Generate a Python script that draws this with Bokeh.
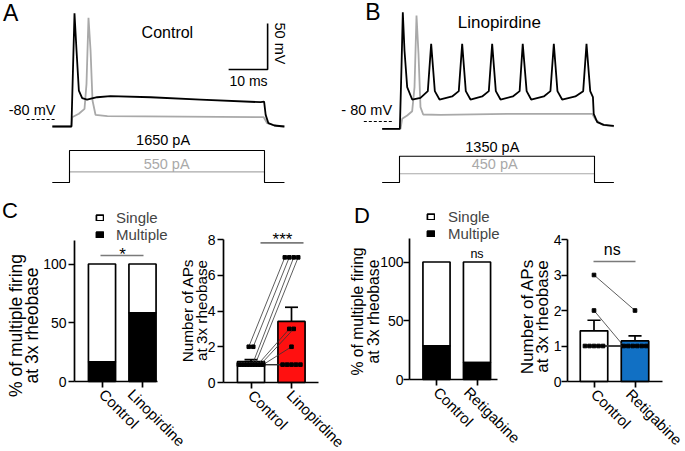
import math
import statistics
from bokeh.plotting import figure
from bokeh.models import Range1d, FixedTicker, Legend, LegendItem
from bokeh.layouts import row, column
from bokeh.embed import file_html
from bokeh.resources import INLINE
from bokeh.core.properties import value

FONT = "Liberation Sans"
GRAY = "#a9a9a9"
RED = "#ff1010"
BLUE = "#1170c4"
SIG = "#7a7a7a"

# ---------------- data ----------------
# Panel A (Control) membrane potential: time (ms from step onset), voltage (mV)
a_high_t = [-4.4, 0.5, 1.28, 1.8, 2.4, 3.25, 4.5, 7.1, 10.5, 20.8, 33.6, 49.0, 49.9, 50.3, 51.0, 52.5, 55.1]
a_high_v = [-87.6, -87.6, 35.5, -5, -48.5, -56.8, -58.3, -55.8, -54.7, -55.8, -58.3, -61.2, -60.5, -75, -84, -86.5, -87.6]
a_low_t = [-4.4, 0.5, 0.68, 2.4, 3.85, 4.36, 4.87, 5.4, 5.9, 6.67, 9.7, 49.8, 50.7, 53.3, 55.1]
a_low_v = [-87.6, -87.6, -77.5, -73.8, -68.4, -41.2, 30.5, -5, -59.3, -74.9, -76.4, -77.5, -84, -87.3, -87.6]
# Panel B (Linopirdine)
b_high_t = [-4.44, 0.09, 0.51, 0.85, 1.28, 1.97, 3.25, 5.38, 7.26, 8.12, 9.06, 10.26, 13.5, 15.2, 16.07,
            17.0, 18.2, 21.2, 22.9, 23.76, 24.7, 25.9, 29.06, 30.8, 31.6, 32.6, 33.76, 37.0, 38.7, 39.57,
            40.5, 41.7, 45.1, 47.1, 47.95, 48.9, 49.6, 49.8, 50.7, 52.4, 54.96]
b_high_v = [-87.97, -87.97, -20.9, 38.8, -2.8, -42.7, -56.1, -54.3, -47.0, 4.4, -47.0, -56.1, -52.8, -47.0, 4.4,
            -47.0, -56.1, -52.8, -47.0, 4.4, -47.0, -56.1, -52.8, -47.0, 4.4, -47.0, -56.1, -52.8, -47.0, 4.4,
            -47.0, -56.1, -52.8, -47.0, 4.4, -47.0, -53.6, -71.7, -80.7, -83.6, -84.7]
b_low_t = [-4.44, 0.26, 0.68, 1.97, 3.25, 3.85, 4.36, 4.87, 5.38, 6.07, 10.5, 27.6, 49.4, 50.3, 52.0, 54.96]
b_low_v = [-87.97, -87.97, -77.1, -73.5, -68.8, -42.7, 35.2, -6.4, -64.4, -72.4, -72.8, -71.7, -71.7, -78.2, -83.6, -85.4]
# current steps
step_on, step_off = 0.0, 50.0
a_trace_span = (-4.4, 55.1)
b_trace_span = (-4.44, 54.96)
a_step_pA = [1650, 550]   # high (black), low (gray)
b_step_pA = [1350, 450]
ref_level_mV = -80
scale_ms, scale_mV = 10, 50

# Panel C / D: number of APs per cell at 3x rheobase (paired)
c_groups = ["Control", "Linopirdine"]
c_ctrl_aps = [2, 2, 1, 1, 1, 1, 1, 1, 1, 1, 1, 1]
c_lino_aps = [7, 7, 1, 1, 1, 1, 1, 7, 7, 3, 3, 2]
d_groups = ["Control", "Retigabine"]
d_ctrl_aps = [3, 2, 1, 1, 1, 1, 1]
d_retig_aps = [2, 1, 1, 1, 1, 1, 1]
pct_ticks = [0, 50, 100]
c_ap_ticks = [0, 2, 4, 6, 8]
d_ap_ticks = [0, 1, 2, 3, 4]

# ---------------- layout geometry (page pixels) ----------------
W, H = 685, 451
TOP_H = 197
BOT_H = H - TOP_H

PX_MS, PX_MV, PX_PA = 3.9, 0.92, 0.0194


def trace_panel(ref_l, ref_r, onset_px, level_px):
    xr = ((ref_l - onset_px) / PX_MS, (ref_r - onset_px) / PX_MS)
    vr = (ref_level_mV - (TOP_H - level_px) / PX_MV, ref_level_mV + level_px / PX_MV)
    ir = (-(TOP_H - 182) / PX_PA, 182 / PX_PA)
    p = figure(width=ref_r - ref_l, height=TOP_H, x_range=Range1d(*xr), y_range=Range1d(*vr),
               x_axis_location=None, y_axis_location=None, toolbar_location=None,
               output_backend="svg", min_border=0, outline_line_color=None,
               background_fill_color=None, border_fill_color=None)
    p.extra_y_ranges = {"pA": Range1d(*ir)}
    p.grid.visible = False
    return p


def ptext(p, x, y, s, size, color="black", align="center", baseline="middle", angle=0.0, rng="default", lh=1.2):
    p.text(x=[x], y=[y], text=[s], text_font=value(FONT), text_font_size=value(f"{size}px"),
           text_color=color, text_align=align, text_baseline=baseline, angle=angle, y_range_name=rng,
           text_line_height=lh)


def draw_traces(p, hi_t, hi_v, lo_t, lo_v, span, steps):
    p.line(lo_t, lo_v, line_color=GRAY, line_width=1.8)
    p.line(hi_t, hi_v, line_color="black", line_width=1.8)
    for amp, col in ((steps[1], GRAY), (steps[0], "black")):
        xs = [span[0], step_on, step_on, step_off, step_off, span[1]]
        ys = [0, 0, amp, amp, 0, 0]
        p.line(xs, ys, line_color=col, line_width=1.1, y_range_name="pA")


pa = trace_panel(0, 340, 69, 119)
draw_traces(pa, a_high_t, a_high_v, a_low_t, a_low_v, a_trace_span, a_step_pA)
pa.line([-11.0, -3.6], [ref_level_mV, ref_level_mV], line_color="black", line_width=1, line_dash="3 2")
ptext(pa, -3.6, -70.1, "-80 mV", 14.5, align="right")
ptext(pa, -15.1, 35.3, "A", 23)
ptext(pa, 25.1, 14.6, "Control", 16)
corner_t, corner_v = 50.8, -25.7
pa.line([corner_t - scale_ms, corner_t, corner_t], [corner_v, corner_v, corner_v + scale_mV],
        line_color="black", line_width=1.6)
ptext(pa, 54.0, 2.6, f"{scale_mV} mV", 14.5, angle=-math.pi / 2)
ptext(pa, 45.9, -37.7, f"{scale_ms} ms", 14)
ptext(pa, 24.0, 2170, f"{a_step_pA[0]} pA", 14.5, rng="pA")
ptext(pa, 24.9, 969, f"{a_step_pA[1]} pA", 14.5, color=GRAY, rng="pA")

pb = trace_panel(340, 685, 399, 121)
draw_traces(pb, b_high_t, b_high_v, b_low_t, b_low_v, b_trace_span, b_step_pA)
pb.line([-9.15, -1.46], [ref_level_mV, ref_level_mV], line_color="black", line_width=1, line_dash="3 2")
ptext(pb, -1.9, -67.9, "- 80 mV", 14.5, align="right")
ptext(pb, -6.8, 39.0, "B", 23)
ptext(pb, 25.6, 27.3, "Linopirdine", 17)
ptext(pb, 23.8, 1825, f"{b_step_pA[0]} pA", 14.5, rng="pA")
ptext(pb, 24.4, 969, f"{b_step_pA[1]} pA", 14.5, color=GRAY, rng="pA")


# ---------------- bar panels ----------------
class Panel:
    """Frame covers the whole figure; axes are pinned with fixed_location + bounds."""

    def __init__(self, fig_l, fig_r, ax_l, ax_r, ax_t, ax_b, c1_px, c2_px, ymax, yticks, groups, ylab_standoff):
        self.fig_l, self.fig_r = fig_l, fig_r
        self.ax = (ax_l, ax_r, ax_t, ax_b)
        self.c1_px, self.sp = c1_px, c2_px - c1_px
        self.ymax = ymax
        xr = (self.dx(fig_l), self.dx(fig_r))
        yr = (self.dy(TOP_H + BOT_H), self.dy(TOP_H))
        p = figure(width=fig_r - fig_l, height=BOT_H, x_range=Range1d(*xr), y_range=Range1d(*yr),
                   toolbar_location=None, output_backend="svg", min_border=0,
                   outline_line_color=None, background_fill_color=None, border_fill_color=None)
        p.grid.visible = False
        p.yaxis.fixed_location = self.dx(ax_l)
        p.yaxis.bounds = (0, ymax)
        p.xaxis.fixed_location = 0
        p.xaxis.bounds = (self.dx(ax_l), self.dx(ax_r))
        p.xaxis.ticker = FixedTicker(ticks=[1, 2])
        p.xaxis.major_label_overrides = {1: groups[0], 2: groups[1]}
        p.xaxis.major_label_orientation = -math.pi / 4
        p.xaxis.major_label_text_font_size = "15px"
        p.xaxis.major_label_standoff = 4
        p.yaxis.ticker = FixedTicker(ticks=yticks)
        p.yaxis.major_label_text_font_size = "14px"
        p.yaxis.major_label_standoff = ylab_standoff
        p.axis.axis_line_width = 1.7
        p.axis.axis_line_color = "black"
        p.axis.major_tick_line_width = 1.7
        p.axis.major_tick_line_color = "black"
        p.axis.major_tick_out = 6
        p.axis.major_tick_in = 0
        p.axis.minor_tick_out = 0
        p.axis.minor_tick_in = 0
        p.axis.major_label_text_font = FONT
        p.axis.major_label_text_color = "black"
        self.p = p

    def dx(self, px):
        return 1 + (px - self.c1_px) / self.sp

    def dy(self, py):
        ax_l, ax_r, ax_t, ax_b = self.ax
        return (ax_b - py) / (ax_b - ax_t) * self.ymax

    def text(self, px, py, s, size, align="center", angle=0.0, lh=1.2):
        ptext(self.p, self.dx(px), self.dy(py), s, size, align=align, angle=angle, lh=lh)

    def sig_line(self, px0, px1, py):
        y = self.dy(py)
        self.p.segment(x0=[self.dx(px0)], y0=[y], x1=[self.dx(px1)], y1=[y], line_color=SIG, line_width=1.7)


def spread(vals, center, max_step=0.11, max_span=0.6):
    xs = [0.0] * len(vals)
    for v in set(vals):
        idx = [i for i, u in enumerate(vals) if u == v]
        k = len(idx)
        step = min(max_step, max_span / (k - 1)) if k > 1 else 0
        for j, i in enumerate(idx):
            xs[i] = center + (j - (k - 1) / 2) * step
    return xs


def stacked(panel, a, b, leg_px, leg_bottom_py, standoff):
    p = panel.p
    pct = [100 * sum(v > 1 for v in g) / len(g) for g in (a, b)]
    r_s = p.vbar(x=[1, 2], bottom=pct, top=[100, 100], width=0.67, fill_color="white",
                 line_color="black", line_width=1.7)
    r_m = p.vbar(x=[1, 2], bottom=[0, 0], top=pct, width=0.67, fill_color="black",
                 line_color="black", line_width=1.7)
    leg = Legend(items=[LegendItem(label="Single", renderers=[r_s]), LegendItem(label="Multiple", renderers=[r_m])],
                 location=(leg_px - panel.fig_l, TOP_H + BOT_H - leg_bottom_py),
                 orientation="vertical", padding=0, margin=0, spacing=0,
                 glyph_width=9, glyph_height=7, label_height=15, label_standoff=standoff,
                 border_line_color=None, background_fill_alpha=0,
                 label_text_font=FONT, label_text_font_size="15px")
    p.add_layout(leg, "center")


def paired(panel, a, b, color):
    p = panel.p
    means = [statistics.mean(a), statistics.mean(b)]
    sems = [statistics.stdev(a) / math.sqrt(len(a)), statistics.stdev(b) / math.sqrt(len(b))]
    p.vbar(x=[1, 2], top=means, width=0.67, fill_color=["white", color], line_color="black", line_width=1.7)
    tops = [m + s for m, s in zip(means, sems)]
    p.segment(x0=[1, 2], y0=means, x1=[1, 2], y1=tops, line_color="black", line_width=1.7)
    p.segment(x0=[0.84, 1.84], y0=tops, x1=[1.16, 2.16], y1=tops, line_color="black", line_width=1.7)
    xa = spread(a, 1)
    xb = spread(b, 2)
    p.multi_line(xs=[[u, w] for u, w in zip(xa, xb)], ys=[[u, w] for u, w in zip(a, b)],
                 line_color="#333333", line_width=0.8)
    p.scatter(xa + xb, a + b, marker="square", size=3.6, color="black")


# C left: % multiple firing
c1 = Panel(0, 188, 74, 157, 240, 381, 101.5, 142, 120, pct_ticks, c_groups, 2)
stacked(c1, c_ctrl_aps, c_lino_aps, 95, 243, 12)
c1.sig_line(100, 143, 255)
c1.text(122, 253.7, "*", 17)
c1.text(9.5, 209.5, "C", 22)
c1.text(23.7, 325, "% of multiple firing\nat 3x rheobase", 17.5, angle=math.pi / 2, lh=0.78)

# C right: number of APs
c2 = Panel(175, 347, 223, 318, 239, 382, 250.5, 291, 8, c_ap_ticks, c_groups, 2)
paired(c2, c_ctrl_aps, c_lino_aps, RED)
c2.sig_line(260, 303, 242.3)
c2.text(282, 239.4, "***", 17)
c2.text(194, 310, "Number of APs\nat 3x rheobase", 15.3, angle=math.pi / 2, lh=0.82)

# D left
d1 = Panel(347, 523, 409, 497, 238, 379, 436, 476.5, 120, pct_ticks, d_groups, 0)
stacked(d1, d_ctrl_aps, d_retig_aps, 426, 241.5, 13)
d1.text(476.5, 253.9, "ns", 12.5)
d1.text(361.5, 215, "D", 22)
d1.text(365, 311, "% of multiple firing\nat 3x rheobase", 15.7, angle=math.pi / 2, lh=0.89)

# D right
d2 = Panel(517, 685, 567, 662, 239, 381, 593.5, 634.5, 4, d_ap_ticks, d_groups, 0)
paired(d2, d_ctrl_aps, d_retig_aps, BLUE)
d2.sig_line(593, 635, 261)
d2.text(611.7, 249.4, "ns", 16)
d2.text(534.5, 316, "Number of APs\nat 3x rheobase", 17, angle=math.pi / 2, lh=0.74)

c2.p.margin = (0, 0, 0, c2.fig_l - c1.fig_r)
d1.p.margin = (0, 0, 0, d1.fig_l - c2.fig_r)
d2.p.margin = (0, 0, 0, d2.fig_l - d1.fig_r)

layout = column(row(pa, pb), row(c1.p, c2.p, d1.p, d2.p))
open("out.html", "w").write(file_html(layout, INLINE))
